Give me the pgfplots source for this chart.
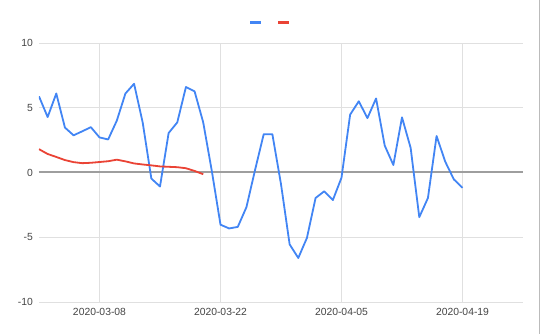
\documentclass[border=0pt]{standalone}
\usepackage{pgfplots}
\pgfplotsset{compat=1.18}
\usepackage{fontspec}
\setmainfont{Liberation Sans}
\definecolor{gblue}{HTML}{4285F4}
\definecolor{gred}{HTML}{EA4335}
\definecolor{gridc}{HTML}{E0E0E0}
\definecolor{zeroc}{HTML}{9E9E9E}
\definecolor{labc}{HTML}{444444}
\begin{document}
\begin{tikzpicture}
\useasboundingbox (-39bp,-32bp) rectangle (501bp,302bp);
\begin{axis}[
  at={(0,0)}, anchor=south west,
  scale only axis, width=484bp, height=259bp,
  xmin=0, xmax=56, ymin=-10, ymax=10,
  xtick={7,21,35,49},
  xticklabels={2020-03-08,2020-03-22,2020-04-05,2020-04-19},
  ytick={-10,-5,5,10},
  extra y ticks={0}, extra y tick labels={0},
  extra y tick style={grid=none},
  grid=major,
  major grid style={color=gridc, line width=0.8bp},
  axis line style={draw=none},
  major tick length=0pt,
  tick label style={font=\fontsize{10.4}{12}\selectfont, text=labc},
  /pgf/number format/assume math mode=true,
  yticklabel style={inner sep=0pt, anchor=east, xshift=-6bp},
  xticklabel style={inner sep=0pt, anchor=north, yshift=-6bp},
  legend columns=2,
  legend style={draw=none, at={(0.478,1.081)}, anchor=center, fill=none,
    nodes={inner sep=0pt},
    /tikz/every even column/.append style={column sep=13bp}},
  legend image code/.code={\draw[line width=3bp] (0bp,0bp) -- (11bp,0bp);},
]
\draw[color=zeroc, line width=2bp] (axis cs:0,0) -- (axis cs:56,0);
\addplot[gblue, line width=1.8bp, line join=round] coordinates {
(0,5.88) (1,4.28) (2,6.1) (3,3.47) (4,2.87) (5,3.18) (6,3.5) (7,2.71) (8,2.55) (9,4.0)
(10,6.1) (11,6.85) (12,3.85) (13,-0.47) (14,-1.08) (15,3.05) (16,3.87) (17,6.6) (18,6.27) (19,3.87)
(20,0.1) (21,-4.03) (22,-4.32) (23,-4.2) (24,-2.68) (25,0.2) (26,2.96) (27,2.96) (28,-0.9) (29,-5.55)
(30,-6.6) (31,-5.05) (32,-1.97) (33,-1.45) (34,-2.13) (35,-0.4) (36,4.47) (37,5.5) (38,4.2) (39,5.72)
(40,2.08) (41,0.58) (42,4.26) (43,1.9) (44,-3.45) (45,-1.97) (46,2.82) (47,0.84) (48,-0.53) (49,-1.18)
};
\addlegendentry{}
\addplot[gred, line width=1.8bp, line join=round] coordinates {
(0,1.8) (1,1.43) (2,1.2) (3,0.96) (4,0.8) (5,0.72) (6,0.75) (7,0.81) (8,0.87) (9,0.99)
(10,0.86) (11,0.7) (12,0.62) (13,0.55) (14,0.47) (15,0.44) (16,0.41) (17,0.33) (18,0.12) (19,-0.13)
};
\addlegendentry{}
\end{axis}
\draw[color=zeroc!70, line width=0.8bp] (500.6bp,-32bp) -- (500.6bp,302bp);
\end{tikzpicture}
\end{document}
